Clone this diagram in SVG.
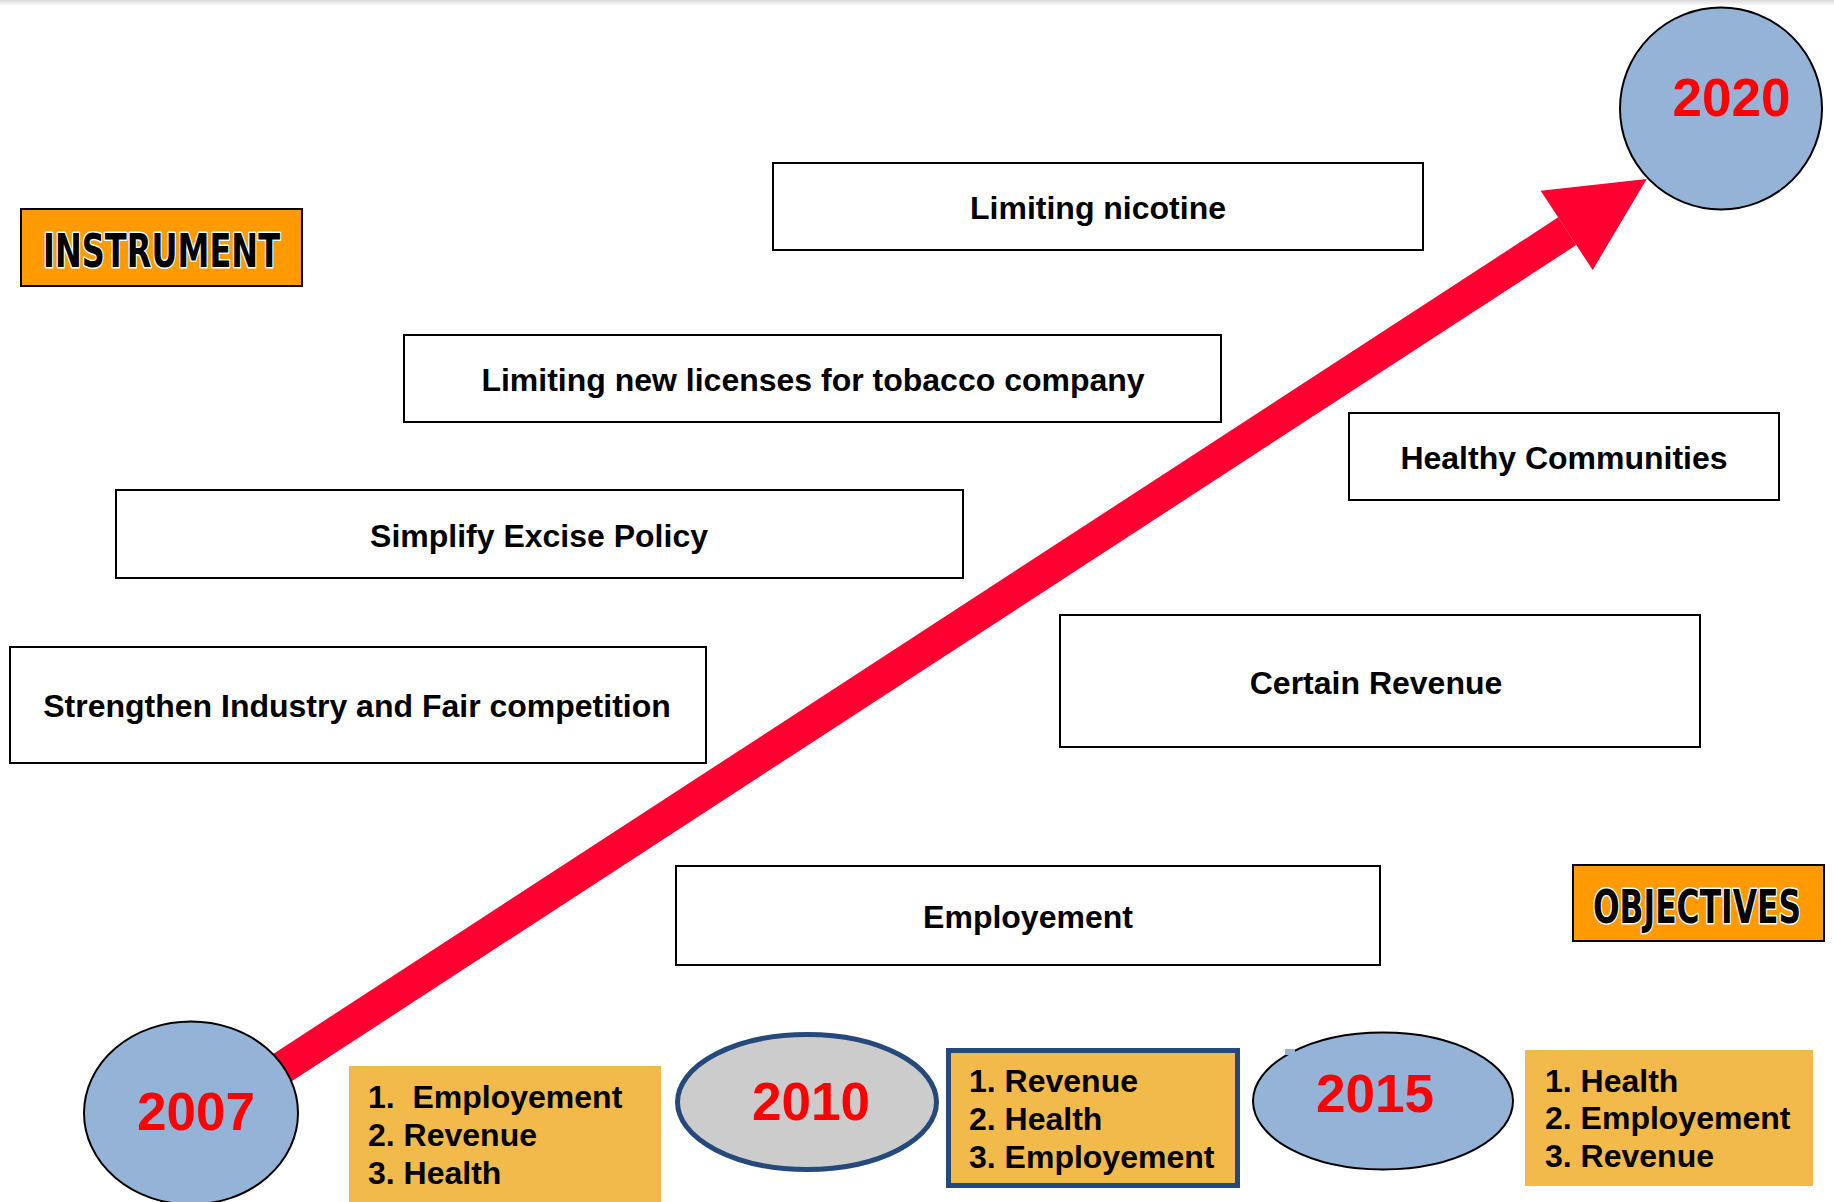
<svg xmlns="http://www.w3.org/2000/svg" width="1834" height="1202" viewBox="0 0 1834 1202">
<defs>
<linearGradient id="topShade" x1="0" y1="0" x2="0" y2="1">
<stop offset="0" stop-color="#d9d9d9"/>
<stop offset="1" stop-color="#ffffff"/>
</linearGradient>
<style>
.box{fill:#ffffff;stroke:#000000;stroke-width:2}
.lbl{font-family:"Liberation Sans",Arial,sans-serif;font-weight:bold;font-size:32px;fill:#000000;text-anchor:middle}
.tag{fill:#FF9A00;stroke:#000000;stroke-width:2}
.tagtxt{font-family:"DejaVu Sans Condensed","DejaVu Sans",sans-serif;font-stretch:condensed;font-weight:bold;font-size:46px;fill:#000000;stroke:#ffffff;stroke-width:3;stroke-linejoin:round;paint-order:stroke;text-anchor:middle}
.year{fill:#95B3D7;stroke:#000000;stroke-width:2}
.yeartxt{font-family:"Liberation Sans",Arial,sans-serif;font-weight:bold;font-size:53px;fill:#FF0000;text-anchor:middle}
.list{fill:#F2B94B}
.listtxt{font-family:"Liberation Sans",Arial,sans-serif;font-weight:bold;font-size:32px;fill:#000000;white-space:pre}
</style>
</defs>
<rect x="0" y="0" width="1834" height="1202" fill="#ffffff"/>
<rect x="0" y="0" width="1834" height="6" fill="url(#topShade)"/>

<g id="connectors">
<line x1="230" y1="1101.7" x2="1567.2" y2="231.2" stroke="#FF0030" stroke-width="33"/>
<polygon points="1540.7,190.7 1646.7,179 1592.7,270" fill="#FF0030"/>
</g>

<g id="instrument">
<rect class="tag" x="21" y="209" width="281" height="77"/>
<text class="tagtxt" transform="translate(161.5,267) scale(0.78,1)" x="0" y="0" textLength="304" lengthAdjust="spacingAndGlyphs">INSTRUMENT</text>
</g>

<g id="objectives">
<rect class="tag" x="1573" y="865" width="251" height="76"/>
<text class="tagtxt" transform="translate(1697,923) scale(0.76,1)" x="0" y="0" textLength="274" lengthAdjust="spacingAndGlyphs">OBJECTIVES</text>
</g>

<g id="limiting-nicotine">
<rect class="box" x="773" y="163" width="650" height="87"/>
<text class="lbl" x="1098" y="219">Limiting nicotine</text>
</g>

<g id="limiting-licenses">
<rect class="box" x="404" y="335" width="817" height="87"/>
<text class="lbl" x="813" y="391">Limiting new licenses for tobacco company</text>
</g>

<g id="healthy-communities">
<rect class="box" x="1349" y="413" width="430" height="87"/>
<text class="lbl" x="1564" y="469">Healthy Communities</text>
</g>

<g id="simplify-excise">
<rect class="box" x="116" y="490" width="847" height="88"/>
<text class="lbl" x="539" y="547">Simplify Excise Policy</text>
</g>

<g id="strengthen-industry">
<rect class="box" x="10" y="647" width="696" height="116"/>
<text class="lbl" x="357" y="717">Strengthen Industry and Fair competition</text>
</g>

<g id="certain-revenue">
<rect class="box" x="1060" y="615" width="640" height="132"/>
<text class="lbl" x="1376" y="694">Certain Revenue</text>
</g>

<g id="employement">
<rect class="box" x="676" y="866" width="704" height="99"/>
<text class="lbl" x="1028" y="928">Employement</text>
</g>

<g id="year-2007">
<ellipse class="year" cx="191" cy="1113" rx="107" ry="91.5"/>
<text class="yeartxt" x="196" y="1130">2007</text>
</g>

<g id="list-2007">
<rect class="list" x="349" y="1066" width="312" height="140"/>
<text class="listtxt" x="368" y="1108">1.  Employement</text>
<text class="listtxt" x="368" y="1146">2. Revenue</text>
<text class="listtxt" x="368" y="1184">3. Health</text>
</g>

<g id="year-2010">
<ellipse cx="807" cy="1102" rx="129.5" ry="67.5" fill="#CCCCCC" stroke="#24497A" stroke-width="5"/>
<text class="yeartxt" x="811" y="1120">2010</text>
</g>

<g id="list-2010">
<rect class="list" x="948.5" y="1050.5" width="289" height="135" stroke="#24497A" stroke-width="5"/>
<text class="listtxt" x="969" y="1092">1. Revenue</text>
<text class="listtxt" x="969" y="1130">2. Health</text>
<text class="listtxt" x="969" y="1168">3. Employement</text>
</g>

<g id="year-2015">
<ellipse class="year" cx="1383" cy="1101" rx="130" ry="68.5"/>
<rect x="1285" y="1049" width="10" height="6" fill="#95B3D7"/>
<text class="yeartxt" x="1375" y="1112">2015</text>
</g>

<g id="list-2015">
<rect class="list" x="1525" y="1050" width="288" height="136"/>
<text class="listtxt" x="1545" y="1092">1. Health</text>
<text class="listtxt" x="1545" y="1129">2. Employement</text>
<text class="listtxt" x="1545" y="1167">3. Revenue</text>
</g>

<g id="year-2020">
<circle class="year" cx="1721" cy="108.5" r="101"/>
<text class="yeartxt" x="1731.5" y="116">2020</text>
</g>
</svg>
